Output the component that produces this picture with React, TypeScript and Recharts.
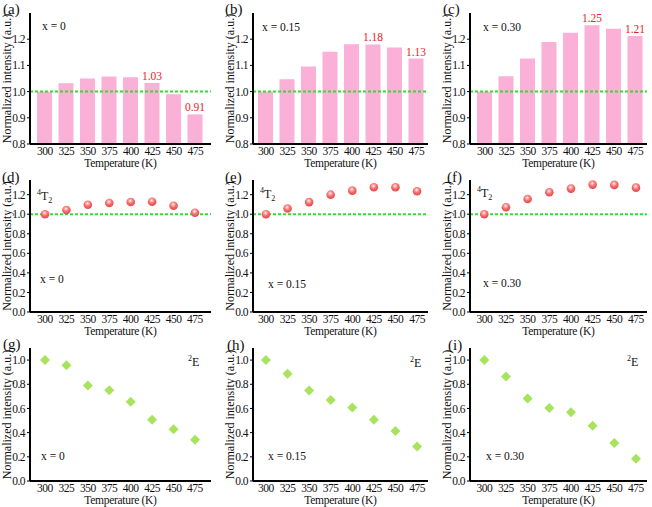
import React from 'react'
import {
  ComposedChart,
  Bar,
  Scatter,
  XAxis,
  YAxis,
  ReferenceLine,
  LabelList,
} from 'recharts'

const temps = [300, 325, 350, 375, 400, 425, 450, 475]

// row 1: normalized integrated intensity (bars)
const barA = [1.0, 1.032, 1.05, 1.058, 1.055, 1.033, 0.99, 0.913]
const barB = [1.0, 1.047, 1.096, 1.152, 1.181, 1.18, 1.168, 1.126]
const barC = [1.0, 1.059, 1.126, 1.189, 1.225, 1.253, 1.24, 1.212]
const lblA = [null, null, null, null, null, '1.03', null, '0.91']
const lblB = [null, null, null, null, null, '1.18', null, '1.13']
const lblC = [null, null, null, null, null, '1.25', null, '1.21']

// row 2: 4T2 band
const t2D = [1.0, 1.043, 1.097, 1.115, 1.125, 1.128, 1.087, 1.015]
const t2E = [1.0, 1.058, 1.124, 1.2, 1.241, 1.276, 1.276, 1.235]
const t2F = [1.0, 1.072, 1.155, 1.224, 1.262, 1.303, 1.3, 1.272]

// row 3: 2E band
const eG = [1.0, 0.958, 0.789, 0.751, 0.656, 0.507, 0.427, 0.341]
const eH = [1.0, 0.887, 0.749, 0.669, 0.608, 0.506, 0.414, 0.285]
const eI = [1.0, 0.864, 0.683, 0.603, 0.569, 0.456, 0.314, 0.183]

const ticksTop = [0.8, 0.9, 1.0, 1.1, 1.2]
const ticksMid = [0, 0.2, 0.4, 0.6, 0.8, 1.0, 1.2]
const ticksLow = [0, 0.2, 0.4, 0.6, 0.8, 1.0]

const FONT = "'Liberation Serif', 'DejaVu Serif', serif"
const frame = { stroke: '#000', strokeWidth: 2 }
const tickStyle = { fontSize: 11.5, fill: '#111', letterSpacing: -0.5, fontFamily: FONT }

const cols = [
  { left: 30, w: 181, padL: 4, padR: 5, xDom: [282.5, 493.7] },
  { left: 253, w: 175, padL: 2, padR: 1, xDom: [285, 487.7] },
  { left: 470, w: 177, padL: 4, padR: 1, xDom: [283.5, 487.7] },
]
const rows = [
  { top: 13, h: 131 },
  { top: 180, h: 132 },
  { top: 348, h: 133 },
]

const Ball = ({ cx, cy }: any) => (
  <circle cx={cx} cy={cy} r={4.3} fill="url(#ball)" />
)

const Diamond = ({ cx, cy }: any) => (
  <polygon
    points={`${cx},${cy - 5} ${cx + 5},${cy} ${cx},${cy + 5} ${cx - 5},${cy}`}
    fill="#a8e35d"
  />
)

function Panel({ col, row, kind, values, labels, domain, ticks, refLine }: any) {
  const c = cols[col]
  const r = rows[row]
  const W = 36 + c.w + 4
  const H = 2 + r.h + 30
  const isBar = kind === 'bar'
  const data = temps.map((t, i) => ({
    t: isBar ? String(t) : t,
    v: values[i],
    lbl: labels ? labels[i] : undefined,
  }))

  const xProps: any = isBar
    ? { type: 'category', padding: { left: c.padL, right: c.padR } }
    : { type: 'number', domain: c.xDom, ticks: temps, allowDataOverflow: true }

  return (
    <div style={{ position: 'absolute', left: c.left - 36, top: r.top - 2, width: W, height: H }}>
      <ComposedChart width={W} height={H} data={data} margin={{ top: 2, right: 4, bottom: 0, left: 0 }}>
        <XAxis
          dataKey="t"
          {...xProps}
          interval={0}
          height={30}
          tickLine={false}
          tickSize={0}
          tickMargin={3}
          axisLine={frame}
          tick={tickStyle}
          label={{
            value: 'Temperature (K)',
            position: 'insideBottom',
            offset: 7,
            fontSize: 11.5,
            fill: '#111',
            letterSpacing: -0.3,
            fontFamily: FONT,
          }}
        />
        <XAxis xAxisId="top" orientation="top" dataKey="t" height={0} tick={false} tickLine={false} axisLine={frame} />
        <YAxis
          domain={domain}
          ticks={ticks}
          allowDataOverflow
          width={36}
          tickSize={3}
          tickMargin={2}
          tickLine={{ stroke: '#000' }}
          axisLine={frame}
          tick={tickStyle}
          tickFormatter={(v: number) => v.toFixed(1)}
          label={{
            value: 'Normalized intensity (a.u.)',
            angle: -90,
            position: 'insideLeft',
            offset: 13,
            fontSize: 12,
            fill: '#111',
            fontFamily: FONT,
            style: { textAnchor: 'middle' },
          }}
        />
        <YAxis yAxisId="r" orientation="right" width={0} tick={false} tickLine={false} axisLine={frame} />
        {isBar && (
          <Bar dataKey="v" fill="#fbb0d7" barSize={15} isAnimationActive={false}>
            <LabelList dataKey="lbl" position="top" offset={3} fill="#e8231f" fontSize={11.5} fontFamily={FONT} />
          </Bar>
        )}
        {kind === 'ball' && (
          <Scatter dataKey="v" shape={(p: any) => <Ball cx={p.cx} cy={p.cy} />} isAnimationActive={false} />
        )}
        {kind === 'diamond' && (
          <Scatter dataKey="v" shape={(p: any) => <Diamond cx={p.cx} cy={p.cy} />} isAnimationActive={false} />
        )}
        {refLine && <ReferenceLine y={1} stroke="#2fe02f" strokeWidth={2} strokeDasharray="3 2" />}
      </ComposedChart>
    </div>
  )
}

const T2 = ({ x, y }: any) => (
  <text x={x} y={y} fontSize={12} fill="#111">
    <tspan fontSize={8} dy={-5}>4</tspan>
    <tspan fontSize={12} dy={5}>T</tspan>
    <tspan fontSize={8} dy={3}>2</tspan>
  </text>
)

const E2 = ({ x, y }: any) => (
  <text x={x} y={y} fontSize={12} fill="#111">
    <tspan fontSize={8} dy={-5}>2</tspan>
    <tspan fontSize={12} dy={5}>E</tspan>
  </text>
)

const letters = [
  { x: 3, y: 13.5, s: '(a)' },
  { x: 225, y: 13.5, s: '(b)' },
  { x: 443, y: 13.5, s: '(c)' },
  { x: 2, y: 182, s: '(d)' },
  { x: 225, y: 182, s: '(e)' },
  { x: 447, y: 182, s: '(f)' },
  { x: 3, y: 349, s: '(g)' },
  { x: 227, y: 350, s: '(h)' },
  { x: 448, y: 350, s: '(i)' },
]

const comps = [
  { x: 42, y: 30, s: 'x = 0' },
  { x: 262, y: 30.5, s: 'x = 0.15' },
  { x: 483, y: 30.5, s: 'x = 0.30' },
  { x: 40, y: 283, s: 'x = 0' },
  { x: 268, y: 288, s: 'x = 0.15' },
  { x: 483, y: 287, s: 'x = 0.30' },
  { x: 41, y: 460, s: 'x = 0' },
  { x: 268, y: 460, s: 'x = 0.15' },
  { x: 486, y: 460, s: 'x = 0.30' },
]

export default function App() {
  return (
    <div
      style={{
        position: 'absolute',
        left: 0,
        top: 0,
        width: 652,
        height: 507,
        background: '#fff',
        overflow: 'hidden',
        fontFamily: FONT,
      }}
    >
      <Panel col={0} row={0} kind="bar" values={barA} labels={lblA} domain={[0.8, 1.3]} ticks={ticksTop} refLine />
      <Panel col={1} row={0} kind="bar" values={barB} labels={lblB} domain={[0.8, 1.3]} ticks={ticksTop} refLine />
      <Panel col={2} row={0} kind="bar" values={barC} labels={lblC} domain={[0.8, 1.3]} ticks={ticksTop} refLine />
      <Panel col={0} row={1} kind="ball" values={t2D} domain={[0, 1.35]} ticks={ticksMid} refLine />
      <Panel col={1} row={1} kind="ball" values={t2E} domain={[0, 1.35]} ticks={ticksMid} refLine />
      <Panel col={2} row={1} kind="ball" values={t2F} domain={[0, 1.35]} ticks={ticksMid} refLine />
      <Panel col={0} row={2} kind="diamond" values={eG} domain={[0, 1.1]} ticks={ticksLow} />
      <Panel col={1} row={2} kind="diamond" values={eH} domain={[0, 1.1]} ticks={ticksLow} />
      <Panel col={2} row={2} kind="diamond" values={eI} domain={[0, 1.1]} ticks={ticksLow} />

      <svg
        width={652}
        height={507}
        style={{ position: 'absolute', left: 0, top: 0, pointerEvents: 'none', fontFamily: FONT }}
      >
        <defs>
          <radialGradient id="ball" cx="45%" cy="35%" r="65%">
            <stop offset="0%" stopColor="#ffffff" />
            <stop offset="22%" stopColor="#ffb0b0" />
            <stop offset="55%" stopColor="#f46a6a" />
            <stop offset="100%" stopColor="#e84848" />
          </radialGradient>
        </defs>
        {letters.map((l) => (
          <text key={l.s} x={l.x} y={l.y} fontSize={15} fill="#111">
            {l.s}
          </text>
        ))}
        {comps.map((c, i) => (
          <text key={i} x={c.x} y={c.y} fontSize={11.5} fill="#111">
            {c.s}
          </text>
        ))}
        <T2 x={37} y={200} />
        <T2 x={260} y={198} />
        <T2 x={477} y={197} />
        <E2 x={188} y={366} />
        <E2 x={410} y={367} />
        <E2 x={627} y={366} />
      </svg>
    </div>
  )
}
